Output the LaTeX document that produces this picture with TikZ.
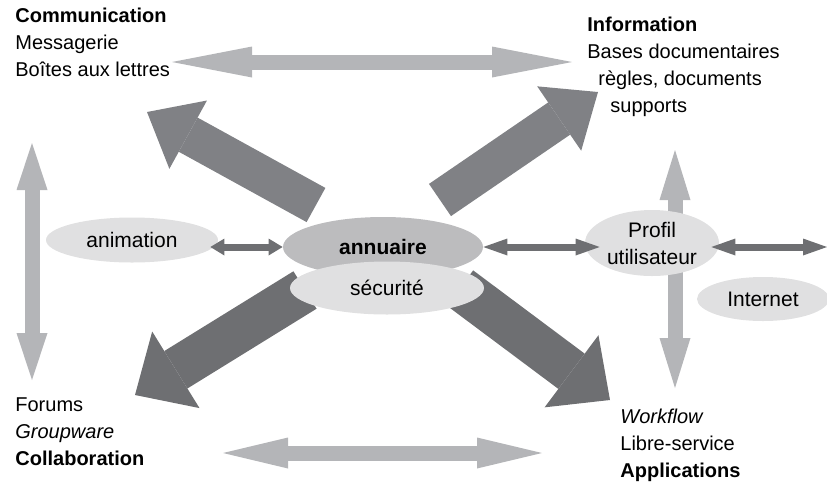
\documentclass[tikz,border=0pt]{standalone}
\usepackage{fontspec}
\setmainfont{Liberation Sans}
\usetikzlibrary{arrows.meta, shapes.geometric, backgrounds}
\definecolor{cpale}{HTML}{E0E0E1}
\definecolor{cmid}{HTML}{BCBCBE}
\definecolor{clight}{HTML}{B4B5B8}
\definecolor{cdark}{HTML}{808185}
\definecolor{cdeep}{HTML}{6E6F72}
\tikzset{
  every picture/.style={font=\fontsize{10}{13.5}\selectfont},
  bulle/.style={ellipse, fill=#1, inner sep=0pt, align=center, font=\fontsize{10.5}{13.5}\selectfont},
  bulle/.default=cpale,
  bloc/.style={align=left, inner sep=0pt, anchor=north west},
  pale/.style={line width=7.5pt, draw=clight,
    {Triangle[length=#1, width=15.5pt, line width=0pt]}-{Triangle[length=#1, width=15.5pt, line width=0pt]}},
  pale/.default=23.5pt,
  petite/.style={line width=3.5pt, draw=cdeep,
    {Triangle[length=#1, width=8.5pt, line width=0pt]}-{Triangle[length=#1, width=8.5pt, line width=0pt]}},
  petite/.default=12pt,
  grossehaut/.style={line width=19.5pt, draw=cdark, -{Triangle[length=23.5pt, width=39pt, line width=0pt]}},
  grossebas/.style={line width=22pt, draw=cdeep, -{Triangle[length=24pt, width=45pt, line width=0pt]}},
}

\begin{document}
\begin{tikzpicture}[x=0.5pt, y=-0.5pt]
  \useasboundingbox (0,0) rectangle (827,484);
  % bulles
  \node[bulle, minimum width=86pt, minimum height=22.5pt] (anim) at (132,240) {animation};
  \node[bulle=cmid, minimum width=100pt, minimum height=30pt] (annu) at (383,247) {\textbf{annuaire}};
  \node[bulle, minimum width=97pt, minimum height=26.5pt] (secu) at (387,288) {sécurité};
  \node[bulle, minimum width=67pt, minimum height=33pt] (profil) at (652,243) {Profil\\utilisateur};
  \node[bulle, minimum width=66pt, minimum height=22pt] (internet) at (763,299) {Internet};
  % textes
  \node[bloc] (comm) at (15,8) {\textbf{Communication}\\Messagerie\\Boîtes aux lettres};
  \node[bloc] (info) at (587,17) {\textbf{Information}\\Bases documentaires\\\hspace*{5.5pt}règles, documents\\\hspace*{11.5pt}supports};
  \node[bloc] (collab) at (15,397) {Forums\\\textit{Groupware}\\\textbf{Collaboration}};
  \node[bloc] (appli) at (620,409) {\textit{Workflow}\\Libre-service\\\textbf{Applications}};
  % extremites des fleches
  \coordinate (hautg) at (172,62);  \coordinate (hautd) at (572,62);
  \coordinate (basg) at (223,453);  \coordinate (basd) at (542,453);
  \coordinate (gaucheh) at (32,143); \coordinate (gaucheb) at (32,380);
  \coordinate (droiteh) at (675,150); \coordinate (droiteb) at (675,388);
  \coordinate (nwq) at (316,205); \coordinate (nwp) at (147,112);
  \coordinate (neq) at (440,200); \coordinate (nep) at (598,92);
  \coordinate (swq) at (305,290); \coordinate (swp) at (135,395);
  \coordinate (seq) at (460,288); \coordinate (sep) at (610,400);
  \coordinate (bord) at (827,247);
  \begin{scope}[on background layer]
    \draw[pale=40pt] (hautg) -- (hautd);
    \draw[pale=32.5pt] (basg) -- (basd);
    \draw[pale] (gaucheh) -- (gaucheb);
    \draw[pale=25pt] (droiteh) -- (droiteb);
    \foreach \a/\b in {nwq/nwp, neq/nep}
      \draw[grossehaut] (\a) -- (\b);
    \foreach \a/\b in {swq/swp, seq/sep}
      \draw[grossebas] (\a) -- (\b);
  \end{scope}
  \draw[petite=7pt] ([xshift=-4pt]anim.east |- annu.west) -- (annu.west);
  \draw[petite] (annu.east) -- ([xshift=7.5pt]profil.west |- annu.east);
  \draw[petite] ([xshift=-4pt]profil.east |- bord) -- (bord);
\end{tikzpicture}
\end{document}
